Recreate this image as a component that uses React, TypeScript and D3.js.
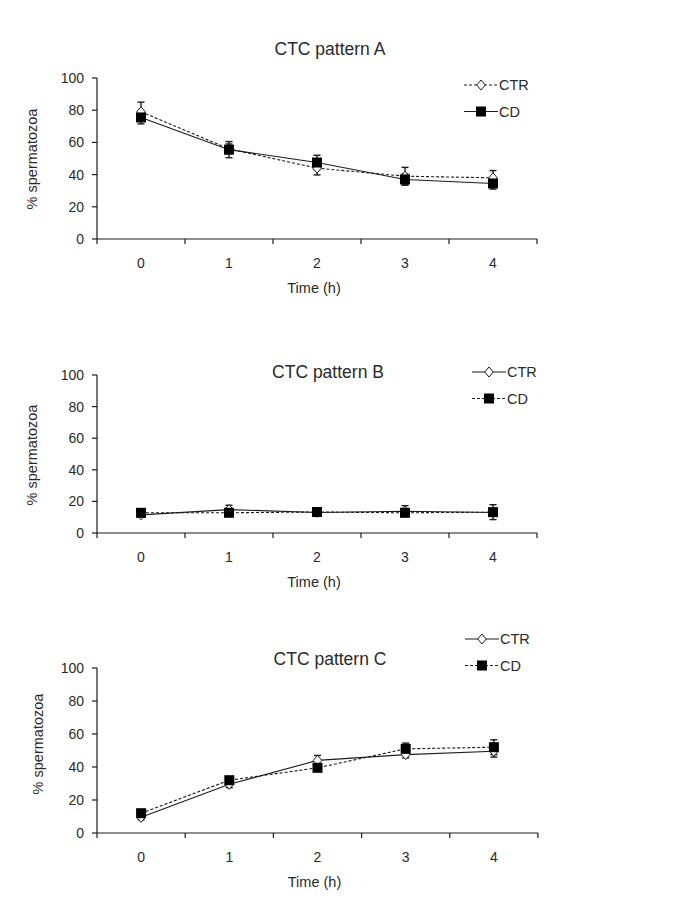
import React from "react";
import * as d3 from "d3";

const hours = ["0", "1", "2", "3", "4"];
const yTicks = [0, 20, 40, 60, 80, 100];
const seriesNames = ["CTR", "CD"];

// Pattern A
const ctrA = [79, 56, 44, 39, 38];
const ctrAErr = [6, 3, 4.2, 5.5, 4.5];
const cdA = [75.5, 55.5, 47.5, 37, 34.5];
const cdAErr = [4, 5, 4.5, 3.5, 3.5];

// Pattern B
const ctrB = [11.5, 14.8, 13, 13.8, 13];
const ctrBErr = [1.5, 2.8, 1.5, 3.5, 2];
const cdB = [12.8, 12.8, 13.3, 12.8, 13.2];
const cdBErr = [1.5, 1.5, 1.5, 2, 4.7];

// Pattern C
const ctrC = [9.5, 29.5, 44, 47.5, 49.5];
const ctrCErr = [1.5, 2, 3, 2, 3.5];
const cdC = [12, 32, 39.5, 51, 52];
const cdCErr = [2, 2, 2, 3.5, 4.5];

const FONT = "'Liberation Sans', Arial, sans-serif";
const INK = "#1c1c1c";
const TXT = "#2a2a2a";

type PanelProps = {
  title: string;
  x0: number; x1: number; y0: number; y100: number;
  titleX: number; titleY: number;
  ylabX: number; ylabY: number;
  legX: number; legY: number;
  ctr: number[]; ctrErr: number[]; cd: number[]; cdErr: number[];
  ctrDashed: boolean;
};

function Panel(p: PanelProps) {
  const x = d3.scaleBand<string>().domain(hours).range([p.x0, p.x1]);
  const y = d3.scaleLinear().domain([0, 100]).range([p.y0, p.y100]);
  const cx = (h: string) => (x(h) as number) + x.bandwidth() / 2;
  const line = d3.line<number>().x((_, i) => cx(hours[i])).y((v) => y(v));
  const dash = "3,2";
  const boundaries = hours.map((h) => x(h) as number).concat([p.x1]);

  const errBars = (vals: number[], errs: number[], key: string) =>
    vals.map((v, i) => {
      const px = cx(hours[i]);
      const top = y(v + errs[i]);
      const bot = y(v - errs[i]);
      return (
        <g key={key + i} stroke={INK} strokeWidth={1.4}>
          <line x1={px} x2={px} y1={top} y2={bot} />
          <line x1={px - 3.5} x2={px + 3.5} y1={top} y2={top} />
          <line x1={px - 3.5} x2={px + 3.5} y1={bot} y2={bot} />
        </g>
      );
    });

  const diamond = (px: number, py: number, k: string) => (
    <path key={k} d={`M${px},${py - 5}L${px + 4.3},${py}L${px},${py + 5}L${px - 4.3},${py}Z`}
      fill="#fff" stroke={INK} strokeWidth={1} />
  );
  const square = (px: number, py: number, k: string) => (
    <rect key={k} x={px - 5} y={py - 5} width={10} height={10} fill="#000" />
  );

  const ctrDash = p.ctrDashed ? dash : undefined;
  const cdDash = p.ctrDashed ? undefined : dash;
  const legLineW = 34;

  return (
    <g fontFamily={FONT} fill={TXT}>
      <text x={p.titleX} y={p.titleY} textAnchor="middle" fontSize={17.5}>{p.title}</text>
      {/* axes */}
      <line x1={p.x0} x2={p.x0} y1={p.y0} y2={p.y100} stroke={INK} strokeWidth={1.2} />
      <line x1={p.x0} x2={p.x1} y1={p.y0} y2={p.y0} stroke={INK} strokeWidth={1.2} />
      {yTicks.map((t) => (
        <g key={"yt" + t}>
          <line x1={p.x0 - 5} x2={p.x0} y1={y(t)} y2={y(t)} stroke={INK} strokeWidth={1.2} />
          <text x={p.x0 - 13} y={y(t) + 5} textAnchor="end" fontSize={14}>{t}</text>
        </g>
      ))}
      {boundaries.map((b, i) => (
        <line key={"xt" + i} x1={b} x2={b} y1={p.y0} y2={p.y0 + 5} stroke={INK} strokeWidth={1.2} />
      ))}
      {hours.map((h) => (
        <text key={"xl" + h} x={cx(h)} y={p.y0 + 29} textAnchor="middle" fontSize={14}>{h}</text>
      ))}
      <text x={(p.x0 + p.x1) / 2 - 3} y={p.y0 + 54} textAnchor="middle" fontSize={14.5}>Time (h)</text>
      <text transform={`translate(${p.ylabX},${p.ylabY}) rotate(-90)`} textAnchor="middle" fontSize={14.5}>% spermatozoa</text>

      {/* series */}
      <path d={line(p.ctr) ?? ""} fill="none" stroke={INK} strokeWidth={1.1} strokeDasharray={ctrDash} />
      <path d={line(p.cd) ?? ""} fill="none" stroke={INK} strokeWidth={1.1} strokeDasharray={cdDash} />
      {errBars(p.ctr, p.ctrErr, "ec")}
      {errBars(p.cd, p.cdErr, "ed")}
      {p.ctr.map((v, i) => diamond(cx(hours[i]), y(v), "dm" + i))}
      {p.cd.map((v, i) => square(cx(hours[i]), y(v), "sq" + i))}

      {/* legend */}
      <g>
        <line x1={p.legX} x2={p.legX + legLineW} y1={p.legY} y2={p.legY} stroke={INK} strokeWidth={1.1} strokeDasharray={ctrDash} />
        {diamond(p.legX + legLineW / 2, p.legY, "ld")}
        <text x={p.legX + legLineW + 1} y={p.legY + 5} fontSize={14.5}>{seriesNames[0]}</text>
        <line x1={p.legX} x2={p.legX + legLineW} y1={p.legY + 26.5} y2={p.legY + 26.5} stroke={INK} strokeWidth={1.1} strokeDasharray={cdDash} />
        {square(p.legX + legLineW / 2, p.legY + 26.5, "ls")}
        <text x={p.legX + legLineW + 1} y={p.legY + 31.5} fontSize={14.5}>{seriesNames[1]}</text>
      </g>
    </g>
  );
}

export default function App() {
  return (
    <svg width={685} height={913} style={{ position: "absolute", left: 0, top: 0, background: "#fff" }}>
      <rect width={685} height={913} fill="#fff" />
      <Panel title="CTC pattern A" x0={97} x1={537} y0={239} y100={78}
        titleX={330} titleY={55} ylabX={37} ylabY={159} legX={464} legY={85}
        ctr={ctrA} ctrErr={ctrAErr} cd={cdA} cdErr={cdAErr} ctrDashed={true} />
      <Panel title="CTC pattern B" x0={97} x1={537} y0={533} y100={375}
        titleX={328} titleY={378} ylabX={37} ylabY={455} legX={472} legY={372}
        ctr={ctrB} ctrErr={ctrBErr} cd={cdB} cdErr={cdBErr} ctrDashed={false} />
      <Panel title="CTC pattern C" x0={97} x1={538} y0={833} y100={668}
        titleX={330} titleY={665} ylabX={43} ylabY={744} legX={465} legY={639}
        ctr={ctrC} ctrErr={ctrCErr} cd={cdC} cdErr={cdCErr} ctrDashed={false} />
    </svg>
  );
}
